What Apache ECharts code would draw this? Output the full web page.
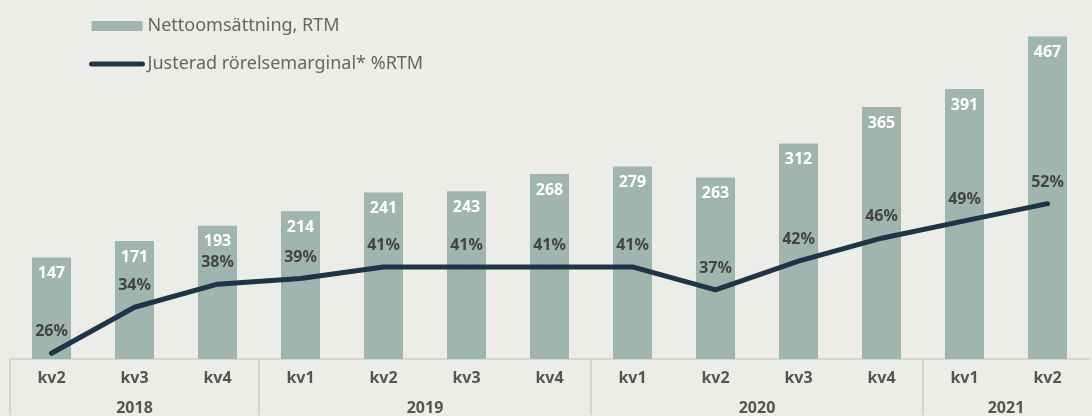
<!DOCTYPE html>
<html>
<head>
<meta charset="utf-8">
<script src="https://cdn.jsdelivr.net/npm/echarts@6/dist/echarts.min.js"></script>
<style>
  html, body { margin: 0; padding: 0; background: #ecece8; }
  #chart { width: 1092px; height: 416px; }
</style>
</head>
<body>
<div id="chart"></div>
<script>
// quarters and year groups for the two-row axis
const quarters = ['kv2', 'kv3', 'kv4', 'kv1', 'kv2', 'kv3', 'kv4', 'kv1', 'kv2', 'kv3', 'kv4', 'kv1', 'kv2'];
const years = ['2018', '2019', '2020', '2021'];
const quartersPerYear = [3, 4, 4, 2];

// Nettoomsättning, RTM
const netSales = [147, 171, 193, 214, 241, 243, 268, 279, 263, 312, 365, 391, 467];
// Justerad rörelsemarginal* %RTM
const adjMargin = [26, 34, 38, 39, 41, 41, 41, 41, 37, 42, 46, 49, 52];

const FONT = 'Noto Sans';
const LINE_COLOR = '#1e3448';

// year row: half-quarter slots, label at the middle of each year, tick at each year start
const yearSlots = new Array(quarters.length * 2 + 1).fill('');
const yearStarts = [];
let start = 0;
years.forEach((y, i) => {
  yearStarts.push(start * 2);
  yearSlots[start * 2 + quartersPerYear[i]] = y;
  start += quartersPerYear[i];
});

const chart = echarts.init(document.getElementById('chart'));

chart.setOption({
  backgroundColor: '#ecece8',
  animation: false,
  textStyle: { fontFamily: FONT },
  legend: {
    orient: 'vertical',
    left: 84,
    top: 12,
    itemGap: 20,
    itemWidth: 51,
    itemHeight: 10,
    textStyle: { color: '#666', fontSize: 18, fontFamily: FONT },
    data: [
      { name: 'Nettoomsättning, RTM', icon: 'rect' },
      {
        name: 'Justerad rörelsemarginal* %RTM',
        itemStyle: { opacity: 0 },
        lineStyle: { width: 5, cap: 'round', color: LINE_COLOR }
      }
    ]
  },
  grid: { left: 10, right: -10, top: 0, bottom: 56 },
  xAxis: [
    {
      type: 'category',
      data: quarters,
      position: 'bottom',
      axisLine: { show: true, lineStyle: { color: '#d6d6d1', width: 2 } },
      axisTick: { show: false },
      axisLabel: { color: '#555', fontSize: 16, fontWeight: 'bold', margin: 11, fontFamily: FONT }
    },
    {
      type: 'category',
      data: yearSlots,
      position: 'bottom',
      boundaryGap: false,
      axisLine: { show: false },
      axisTick: {
        show: true,
        length: 56,
        interval: (idx) => yearStarts.includes(idx),
        lineStyle: { color: '#d6d6d1', width: 2 }
      },
      axisLabel: { interval: 0, color: '#555', fontSize: 16, fontWeight: 'bold', margin: 41, fontFamily: FONT }
    }
  ],
  yAxis: [
    { type: 'value', min: 0, max: 520, show: false },
    { type: 'value', min: 25, max: 87.4, show: false }
  ],
  series: [
    {
      name: 'Nettoomsättning, RTM',
      type: 'bar',
      data: netSales,
      xAxisIndex: 0,
      yAxisIndex: 0,
      barWidth: 39,
      itemStyle: { color: '#9fb5ad' },
      label: {
        show: true,
        position: 'insideTop',
        distance: 8,
        color: '#fff',
        fontSize: 16,
        fontWeight: 'bold',
        fontFamily: FONT
      }
    },
    {
      name: 'Justerad rörelsemarginal* %RTM',
      type: 'line',
      data: adjMargin,
      xAxisIndex: 0,
      yAxisIndex: 1,
      symbol: 'circle',
      symbolSize: 1,
      showSymbol: true,
      lineStyle: { color: LINE_COLOR, width: 5, cap: 'round' },
      itemStyle: { color: LINE_COLOR },
      label: {
        show: true,
        position: 'top',
        distance: 13,
        formatter: '{c}%',
        color: '#444',
        fontSize: 16,
        fontWeight: 'bold',
        fontFamily: FONT
      }
    }
  ]
});
</script>
</body>
</html>
